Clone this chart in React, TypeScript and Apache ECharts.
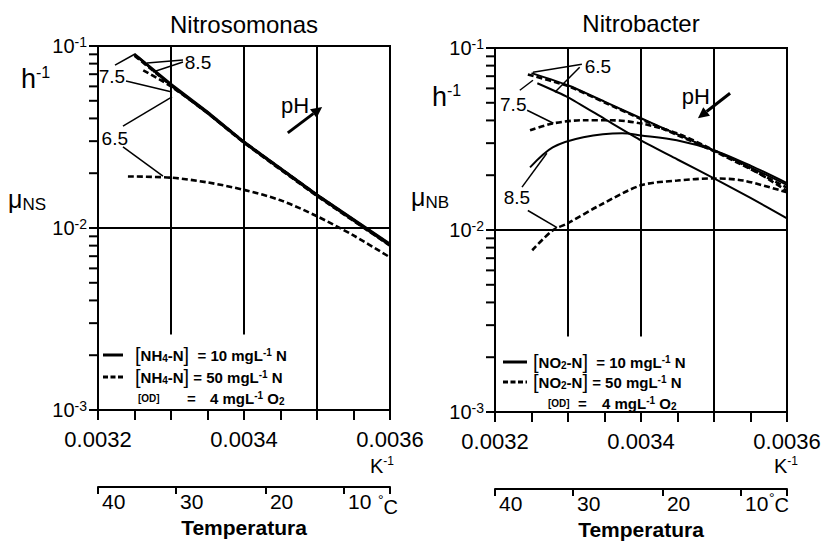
import React, { useEffect, useRef } from 'react';
import * as echarts from 'echarts';

const FONT = '"Liberation Sans", Arial, Helvetica, sans-serif';

// ---- axes ----
const xMin = 0.0032;
const xMax = 0.0036;
const xTickValues = [0.0032, 0.00325, 0.0033, 0.00335, 0.0034, 0.00345, 0.0035, 0.00355, 0.0036];
const xLabelValues = [0.0032, 0.0034, 0.0036];
const yMinorTickValues = [0.002, 0.003, 0.004, 0.005, 0.006, 0.007, 0.008, 0.009, 0.02, 0.03, 0.04, 0.05, 0.06, 0.07, 0.08, 0.09];
const tempLabels = ['40', '30', '20', '10'];
const tempLabelPos = [0.0032, 0.003307, 0.00343, 0.003537];
const tempTickPos = [0.0032, 0.003307, 0.00343, 0.003537, 0.0036];

// ---- Nitrosomonas (mu_NS, h^-1) vs 1/T ----
const nsSolid85 = [[0.00325, 0.0905], [0.0033, 0.062], [0.00335, 0.0436], [0.0034, 0.0299], [0.0035, 0.0153], [0.0036, 0.0082]];
const nsSolid75 = [[0.00325, 0.0892], [0.0033, 0.0612], [0.00335, 0.043], [0.0034, 0.0296], [0.0035, 0.0151], [0.0036, 0.0081]];
const nsSolid65 = [[0.003255, 0.087], [0.0033, 0.0605], [0.00335, 0.0426], [0.0034, 0.0293], [0.0035, 0.015], [0.0036, 0.008]];
const nsDash85 = [[0.003262, 0.0735], [0.0033, 0.06], [0.00335, 0.0428], [0.0034, 0.0294], [0.0035, 0.015], [0.0036, 0.008]];
const nsDash75 = [[0.00325, 0.0885], [0.0033, 0.0608], [0.00335, 0.0432], [0.0034, 0.0297], [0.0035, 0.0152], [0.0036, 0.0081]];
const nsDash65 = [[0.003241, 0.0192], [0.0033, 0.0189], [0.00335, 0.0178], [0.0034, 0.0162], [0.00345, 0.0142], [0.0035, 0.0116], [0.00355, 0.0091], [0.0036, 0.0069]];

// ---- Nitrobacter (mu_NB, h^-1) vs 1/T ----
const nbSolid65 = [[0.00325, 0.0728], [0.0033, 0.0624], [0.00335, 0.0507], [0.0034, 0.0411], [0.00345, 0.0335], [0.0035, 0.0274], [0.00355, 0.0221], [0.0036, 0.0177]];
const nbDash65 = [[0.003245, 0.0715], [0.0033, 0.0618], [0.00335, 0.0502], [0.0034, 0.0407], [0.00345, 0.0332], [0.0035, 0.0271], [0.00355, 0.0216], [0.0036, 0.0171]];
const nbSolid75 = [[0.003258, 0.064], [0.0033, 0.0536], [0.00335, 0.0408], [0.0034, 0.0311], [0.00345, 0.0244], [0.0035, 0.0192], [0.00355, 0.015], [0.0036, 0.0116]];
const nbDash75 = [[0.003248, 0.0353], [0.003279, 0.0385], [0.003321, 0.0401], [0.003358, 0.0401], [0.0034, 0.0385], [0.003449, 0.034], [0.0035, 0.0274], [0.00355, 0.0218], [0.0036, 0.0164]];
const nbSolid85 = [[0.003248, 0.0221], [0.003279, 0.0284], [0.003321, 0.0323], [0.003374, 0.034], [0.0034, 0.0331], [0.003449, 0.0311], [0.0035, 0.0274], [0.00355, 0.0226], [0.0036, 0.0181]];
const nbDash85 = [[0.003251, 0.00774], [0.003279, 0.00995], [0.0033, 0.0109], [0.003344, 0.0137], [0.0034, 0.0176], [0.00345, 0.0187], [0.0035, 0.0192], [0.00354, 0.0187], [0.0036, 0.0161]];

// ---- annotations (data coordinates) ----
const nsCurveLabels = [
  { text: '8.5', at: [0.003337, 0.0807] },
  { text: '7.5', at: [0.003219, 0.0684] },
  { text: '6.5', at: [0.003223, 0.0312] },
];
const nsLeaders = [
  [[0.0033164, 0.0838], [0.0032671, 0.0807]],
  [[0.0033164, 0.0817], [0.0032753, 0.072]],
  [[0.0032233, 0.0786], [0.0032507, 0.0904]],
  [[0.0032384, 0.0642], [0.0033014, 0.0559]],
  [[0.0032342, 0.0363], [0.0033014, 0.0525]],
  [[0.0032342, 0.0279], [0.003289, 0.0193]],
];
const nsPh = { at: [0.00347, 0.0474], from: [0.00346, 0.0333], to: [0.003507, 0.0462] };

const nbCurveLabels = [
  { text: '6.5', at: [0.003341, 0.0793] },
  { text: '7.5', at: [0.003225, 0.0491] },
  { text: '8.5', at: [0.00323, 0.0151] },
];
const nbLeaders = [
  [[0.003319, 0.0813], [0.003252, 0.0735]],
  [[0.003316, 0.0783], [0.003282, 0.0571]],
  [[0.003234, 0.0586], [0.003252, 0.0665]],
  [[0.003244, 0.0455], [0.00328, 0.0386]],
  [[0.003237, 0.0172], [0.003271, 0.0264]],
  [[0.003245, 0.0128], [0.003285, 0.0103]],
];
const nbPh = { at: [0.003475, 0.0543], from: [0.003522, 0.0564], to: [0.003478, 0.0411] };

const black = '#000';

function makeSeries(name: string, data: number[][], xi: number, yi: number, dashed: boolean, smooth: number | boolean) {
  return {
    type: 'line',
    name,
    data,
    xAxisIndex: xi,
    yAxisIndex: yi,
    symbol: 'none',
    showSymbol: false,
    smooth,
    silent: true,
    lineStyle: { color: black, width: dashed ? 2.6 : 2, type: dashed ? [6, 3] : 'solid' },
    z: 3,
  };
}

function gridMarkLine() {
  return {
    silent: true,
    symbol: ['none', 'none'],
    label: { show: false },
    lineStyle: { color: black, width: 2, type: 'solid' },
    data: [
      [{ coord: [0.0033, 0.1] }, { coord: [0.0033, 0.0026] }],
      [{ coord: [0.0034, 0.1] }, { coord: [0.0034, 0.0026] }],
      [{ coord: [0.0035, 0.1] }, { coord: [0.0035, 0.001] }],
      [{ coord: [0.0032, 0.01] }, { coord: [0.0036, 0.01] }],
    ],
  };
}

function mainXAxis(gridIndex: number) {
  return {
    type: 'value',
    gridIndex,
    min: xMin,
    max: xMax,
    position: 'bottom',
    axisLine: { show: true, onZero: false, lineStyle: { color: black, width: 2 } },
    axisTick: { show: true, inside: false, length: 10, customValues: xTickValues, lineStyle: { color: black, width: 2 } },
    axisLabel: {
      customValues: xLabelValues,
      formatter: (v: number) => v.toFixed(4),
      fontSize: 22,
      fontFamily: FONT,
      color: black,
      margin: 18,
    },
    splitLine: { show: false },
  };
}

function tempXAxis(gridIndex: number) {
  return {
    type: 'value',
    gridIndex,
    min: xMin,
    max: xMax,
    position: 'bottom',
    offset: 77,
    axisLine: { show: true, onZero: false, lineStyle: { color: black, width: 2 } },
    axisTick: { show: true, inside: false, length: 7, customValues: tempTickPos, lineStyle: { color: black, width: 2 } },
    axisLabel: {
      customValues: tempLabelPos,
      formatter: (v: number) => {
        let best = 0;
        tempLabelPos.forEach((p, i) => {
          if (Math.abs(p - v) < Math.abs(tempLabelPos[best] - v)) best = i;
        });
        return tempLabels[best];
      },
      align: 'left',
      padding: [0, 0, 0, 4],
      fontSize: 21,
      fontFamily: FONT,
      color: black,
      margin: 4,
    },
    splitLine: { show: false },
    name: 'Temperatura',
    nameLocation: 'middle',
    nameGap: 29,
    nameTextStyle: { fontSize: 21, fontWeight: 'bold', fontFamily: FONT, color: black, lineHeight: 22 },
  };
}

function logYAxis(gridIndex: number) {
  return {
    type: 'log',
    logBase: 10,
    gridIndex,
    min: 0.001,
    max: 0.1,
    axisLine: { show: true, onZero: false, lineStyle: { color: black, width: 2 } },
    axisTick: { show: true, inside: false, length: 9, lineStyle: { color: black, width: 2 } },
    axisLabel: {
      margin: 11,
      fontSize: 20,
      fontFamily: FONT,
      color: black,
      formatter: (v: number) => `{b|10}{s|${Math.round(Math.log10(v))}}`,
      rich: {
        b: { fontSize: 20, fontFamily: FONT, color: black, lineHeight: 22 },
        s: { fontSize: 14, fontFamily: FONT, color: black, lineHeight: 22, verticalAlign: 'top' },
      },
    },
    splitLine: { show: false },
    minorSplitLine: { show: false },
  };
}

function richText(x: number, y: number, text: string, rich: any, align = 'left', vAlign = 'middle') {
  return {
    type: 'text',
    x,
    y,
    z: 60,
    silent: true,
    style: { text, rich, fill: black, align, verticalAlign: vAlign, font: `16px ${FONT}` },
  };
}

function legendGraphics(x0: number, rows: number[], chem: string, sub: string, odX: number, eqX: number, valX: number, lineX: number[]) {
  const t = { fontSize: 15, fontWeight: 'bold', fontFamily: FONT, fill: black, lineHeight: 16 };
  const sb = { fontSize: 10, fontWeight: 'bold', fontFamily: FONT, fill: black, lineHeight: 16, verticalAlign: 'bottom' };
  const sp = { fontSize: 10, fontWeight: 'bold', fontFamily: FONT, fill: black, lineHeight: 16, verticalAlign: 'top' };
  const br = { fontSize: 20, fontFamily: FONT, fill: black, lineHeight: 16 };
  const small = { fontSize: 10, fontWeight: 'bold', fontFamily: FONT, fill: black, lineHeight: 16 };
  const rich = { t, sb, sp, br, small };
  return [
    { type: 'line', z: 60, silent: true, shape: { x1: lineX[0], y1: rows[0], x2: lineX[1], y2: rows[0] }, style: { stroke: black, lineWidth: 3 } },
    { type: 'line', z: 60, silent: true, shape: { x1: lineX[0], y1: rows[1], x2: lineX[1], y2: rows[1] }, style: { stroke: black, lineWidth: 3, lineDash: [5, 2.5] } },
    richText(x0, rows[0], `{br|[}{t|${chem}}{sb|${sub}}{t|-N}{br|]}{t|  = 10 mgL}{sp|-1}{t| N}`, rich),
    richText(x0, rows[1], `{br|[}{t|${chem}}{sb|${sub}}{t|-N}{br|]}{t| = 50 mgL}{sp|-1}{t| N}`, rich),
    richText(odX, rows[2], '{small|[OD]}', rich),
    richText(eqX, rows[2], '{t|=}', rich),
    richText(valX, rows[2], '{t|4 mgL}{sp|-1}{t| O}{sb|2}', rich),
  ];
}

export default function App() {
  const ref = useRef<HTMLDivElement>(null);

  useEffect(() => {
    if (!ref.current) return;
    const chart = echarts.init(ref.current, undefined, { renderer: 'svg' });

    const s0 = makeSeries('NS pH 8.5, 10 mg/L', nsSolid85, 0, 0, false, false);
    (s0 as any).markLine = gridMarkLine();
    const s6 = makeSeries('NB pH 6.5, 10 mg/L', nbSolid65, 2, 1, false, 0.2);
    (s6 as any).markLine = gridMarkLine();

    const option: any = {
      animation: false,
      backgroundColor: '#fff',
      textStyle: { fontFamily: FONT, color: black },
      grid: [
        { left: 98, top: 46, width: 292, height: 364, show: true, borderColor: black, borderWidth: 2, containLabel: false, outerBoundsMode: 'none' },
        { left: 495, top: 48, width: 292, height: 364, show: true, borderColor: black, borderWidth: 2, containLabel: false, outerBoundsMode: 'none' },
      ],
      xAxis: [mainXAxis(0), tempXAxis(0), mainXAxis(1), tempXAxis(1)],
      yAxis: [logYAxis(0), logYAxis(1)],
      series: [
        s0,
        makeSeries('NS pH 7.5, 10 mg/L', nsSolid75, 0, 0, false, false),
        makeSeries('NS pH 6.5, 10 mg/L', nsSolid65, 0, 0, false, false),
        makeSeries('NS pH 8.5, 50 mg/L', nsDash85, 0, 0, true, 0.2),
        makeSeries('NS pH 7.5, 50 mg/L', nsDash75, 0, 0, true, false),
        makeSeries('NS pH 6.5, 50 mg/L', nsDash65, 0, 0, true, 0.3),
        s6,
        makeSeries('NB pH 6.5, 50 mg/L', nbDash65, 2, 1, true, 0.2),
        makeSeries('NB pH 7.5, 10 mg/L', nbSolid75, 2, 1, false, 0.2),
        makeSeries('NB pH 7.5, 50 mg/L', nbDash75, 2, 1, true, 0.3),
        makeSeries('NB pH 8.5, 10 mg/L', nbSolid85, 2, 1, false, 0.3),
        makeSeries('NB pH 8.5, 50 mg/L', nbDash85, 2, 1, true, 0.3),
      ],
    };
    chart.setOption(option);

    const axisRef = (g: number) => (g === 0 ? { xAxisIndex: 0, yAxisIndex: 0 } : { xAxisIndex: 2, yAxisIndex: 1 });
    const toPx = (g: number, pt: number[]) => chart.convertToPixel(axisRef(g), pt) as number[];

    const graphics: any[] = [];

    // sub-decade ticks of the log axes, placed through the axis scale
    [0, 1].forEach((g) => {
      yMinorTickValues.forEach((v) => {
        const p = toPx(g, [xMin, v]);
        graphics.push({ type: 'line', shape: { x1: p[0] - 9, y1: p[1], x2: p[0], y2: p[1] }, style: { stroke: black, lineWidth: 2 } });
      });
    });

    const labelStyle = (x: number, y: number, text: string, size: number) => ({
      type: 'text', x, y, z: 60, silent: true,
      style: { text, fill: black, font: `${size}px ${FONT}`, align: 'center', verticalAlign: 'middle' },
    });

    const arrow = (a: number[], b: number[]) => {
      const dx = b[0] - a[0];
      const dy = b[1] - a[1];
      const len = Math.sqrt(dx * dx + dy * dy);
      const ux = dx / len, uy = dy / len;
      const hl = 11, hw = 5.5;
      const bx = b[0] - ux * hl, by = b[1] - uy * hl;
      return [
        { type: 'line', z: 60, silent: true, shape: { x1: a[0], y1: a[1], x2: bx, y2: by }, style: { stroke: black, lineWidth: 3 } },
        { type: 'polygon', z: 60, silent: true, shape: { points: [[b[0], b[1]], [bx - uy * hw, by + ux * hw], [bx + uy * hw, by - ux * hw]] }, style: { fill: black } },
      ];
    };

    const addPanel = (g: number, labels: any[], leaders: any[], ph: any) => {
      labels.forEach((l) => {
        const p = toPx(g, l.at);
        graphics.push(labelStyle(p[0], p[1], l.text, 19));
      });
      leaders.forEach((seg) => {
        const a = toPx(g, seg[0]);
        const b = toPx(g, seg[1]);
        graphics.push({ type: 'line', z: 60, silent: true, shape: { x1: a[0], y1: a[1], x2: b[0], y2: b[1] }, style: { stroke: black, lineWidth: 1.5 } });
      });
      const pp = toPx(g, ph.at);
      graphics.push(labelStyle(pp[0], pp[1], 'pH', 22));
      graphics.push(...arrow(toPx(g, ph.from), toPx(g, ph.to)));
    };
    addPanel(0, nsCurveLabels, nsLeaders, nsPh);
    addPanel(1, nbCurveLabels, nbLeaders, nbPh);

    // titles
    graphics.push(labelStyle(244, 24, 'Nitrosomonas', 24));
    graphics.push(labelStyle(641, 23, 'Nitrobacter', 24));

    // axis names
    const supRich = (big: number, small: number, dir: string) => ({
      a: { fontSize: big, fontFamily: FONT, fill: black, lineHeight: big + 2 },
      s: { fontSize: small, fontFamily: FONT, fill: black, lineHeight: big + 2, verticalAlign: dir },
    });
    graphics.push(richText(21, 79, '{a|h}{s|-1}', supRich(27, 16, 'top')));
    graphics.push(richText(432, 97, '{a|h}{s|-1}', supRich(27, 16, 'top')));
    graphics.push(richText(8, 199, '{a|μ}{s|NS}', supRich(25, 17, 'bottom')));
    graphics.push(richText(411, 197, '{a|μ}{s|NB}', supRich(25, 17, 'bottom')));
    graphics.push(richText(370, 466, '{a|K}{s|-1}', supRich(20, 12, 'top')));
    graphics.push(richText(774, 466, '{a|K}{s|-1}', supRich(20, 12, 'top')));
    const degRich = {
      d: { fontSize: 14, fontFamily: FONT, fill: black, lineHeight: 24, verticalAlign: 'top' },
      c: { fontSize: 20, fontFamily: FONT, fill: black, lineHeight: 24, verticalAlign: 'bottom' },
    };
    graphics.push(richText(378, 505, '{d|°}{c|C}', degRich));
    graphics.push(richText(769, 503, '{d|°}{c|C}', degRich));

    // legends
    graphics.push(...legendGraphics(135, [355, 377, 398], 'NH', '4', 138, 187, 210, [103, 123]));
    graphics.push(...legendGraphics(533, [362, 382, 403], 'NO', '2', 548, 578, 602, [503, 527]));

    chart.setOption({ graphic: graphics });

    return () => chart.dispose();
  }, []);

  return (
    <div
      ref={ref}
      style={{ position: 'fixed', left: 0, top: 0, width: 824, height: 541, background: '#fff' }}
    />
  );
}
